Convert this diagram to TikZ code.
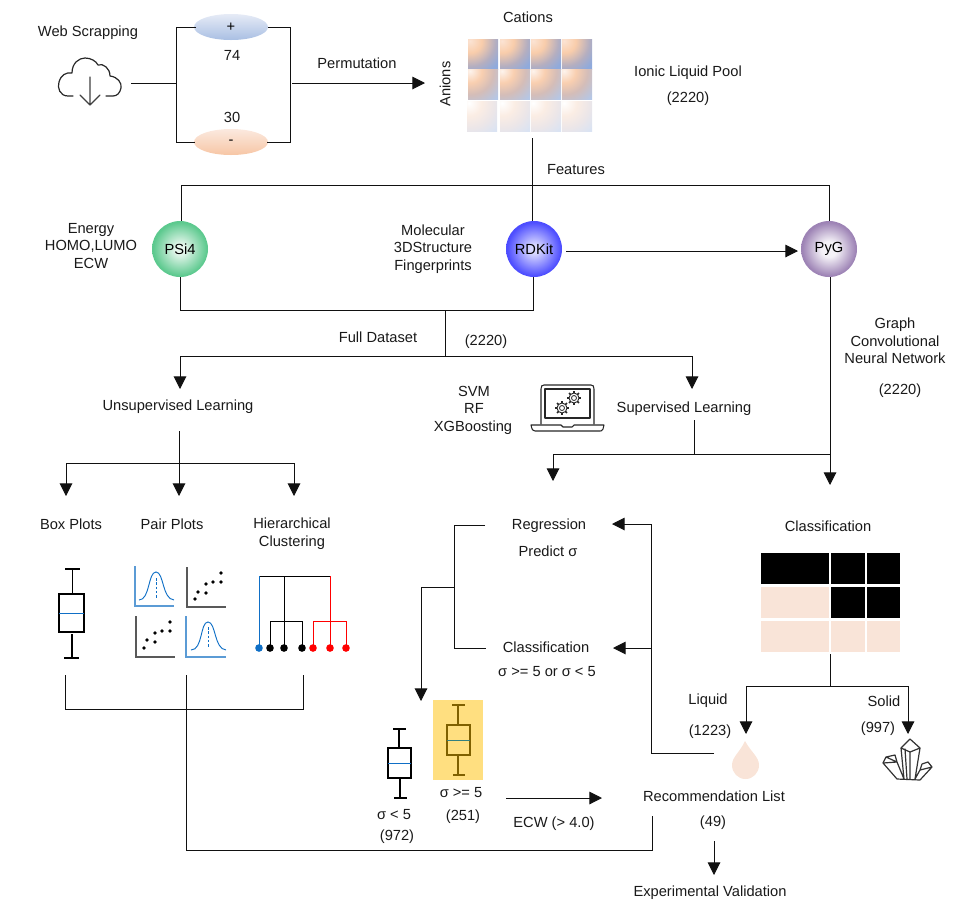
\documentclass[tikz,border=0pt]{standalone}
\usepackage{fontspec}
\setmainfont{Liberation Sans}
\usetikzlibrary{arrows.meta,shapes.geometric}
\definecolor{linec}{HTML}{111111}
\definecolor{peach}{HTML}{F9E4D8}
\definecolor{bluea}{HTML}{5B9BD5}
\definecolor{blueb}{HTML}{0F6FC6}
\definecolor{sandc}{HTML}{7F6000}
\definecolor{yell}{HTML}{FFDF80}
\definecolor{a0}{HTML}{FBE3D3}\definecolor{a1}{HTML}{F9CDAB}\definecolor{a2}{HTML}{B4AEC0}\definecolor{a3}{HTML}{8FAADC}
\definecolor{b0}{HTML}{FDF3EC}\definecolor{b1}{HTML}{F9CFB0}\definecolor{b2}{HTML}{D4BDB8}\definecolor{b3}{HTML}{B4C7E7}
\definecolor{c0}{HTML}{FFFFFF}\definecolor{c1}{HTML}{FBEDE4}\definecolor{c2}{HTML}{ECE6E8}\definecolor{c3}{HTML}{DAE3F3}
\definecolor{g0}{HTML}{E8F7EE}\definecolor{g1}{HTML}{5CC98E}
\definecolor{u0}{HTML}{D8D8FF}\definecolor{u1}{HTML}{4D4DFF}
\definecolor{p0}{HTML}{F4F1F7}\definecolor{p1}{HTML}{9D83B5}
\pgfdeclareradialshading{cellA}{\pgfpointorigin}{color(0bp)=(a0);color(7bp)=(a1);color(15bp)=(a2);color(21bp)=(a3);color(50bp)=(a3)}
\pgfdeclareradialshading{cellB}{\pgfpointorigin}{color(0bp)=(b0);color(7bp)=(b1);color(14bp)=(b2);color(22.5bp)=(b3);color(50bp)=(b3)}
\pgfdeclareradialshading{cellC}{\pgfpointorigin}{color(0bp)=(c0);color(7.5bp)=(c1);color(15bp)=(c2);color(22.5bp)=(c3);color(50bp)=(c3)}
\pgfdeclareradialshading{ballG}{\pgfpointorigin}{color(0bp)=(g0);color(4bp)=(g0);color(24bp)=(g1);color(50bp)=(g1)}
\pgfdeclareradialshading{ballB}{\pgfpointorigin}{color(0bp)=(u0);color(4bp)=(u0);color(24bp)=(u1);color(50bp)=(u1)}
\pgfdeclareradialshading{ballP}{\pgfpointorigin}{color(0bp)=(p0);color(7bp)=(p0);color(24bp)=(p1);color(50bp)=(p1)}
\newcommand{\ioncell}[3]{\begin{scope}\clip (#1,#2) rectangle ++(30,30);\shade[shading=#3] (#1+2,#2+2) circle[radius=42];\end{scope}}
\tikzset{
 lbl/.style={inner sep=0pt,font=\fontsize{11}{13}\selectfont,text=black!90,text height=7.9pt,text depth=0pt},
 conn/.style={draw=linec,line width=0.75pt},
 arr/.style={conn,-{Triangle[length=9.5pt,width=9.5pt]}},
 ball/.style={circle,minimum size=42pt,inner sep=0pt,font=\fontsize{11}{13}\selectfont},
 ion/.style={ellipse,minimum width=55.5pt,minimum height=19.5pt,inner sep=0pt,font=\fontsize{11}{13}\selectfont},
 icon/.style={draw=black!85,line width=0.8pt,line join=round,line cap=round},
 boxs/.style={draw=black,line width=0.8pt},
 boxb/.style={draw=black,line width=1.9pt},
 axisb/.style={draw=bluea,line width=1pt},
 axisd/.style={draw=black!65,line width=1.1pt},
 bell/.style={draw=blueb,line width=0.7pt},
 dots/.style={fill=black,draw=none},
}
\begin{document}
\begin{tikzpicture}[x=0.75pt,y=-0.75pt]
\useasboundingbox (0,0) rectangle (971,908);
% --- top row text
\node[lbl] (web) at (88,31) {Web Scrapping};
\node[lbl] (n74) at (232,55) {74};
\node[lbl] (n30) at (232,117) {30};
\node[lbl] (perm) at (357,63) {Permutation};
\node[lbl] (cat) at (528,17) {Cations};
\node[lbl,rotate=90] (an) at (445,84) {Anions};
\node[lbl] (pool) at (688,71) {Ionic Liquid Pool};
\node[lbl] (pooln) at (688,97) {(2220)};
\node[lbl] (feat) at (576,169) {Features};
% cloud
\draw[icon,line width=0.9pt] (73,96) -- (68,96) .. controls (60,96) and (57,88) .. (59,82) .. controls (61,75) and (66,72) .. (72,73) .. controls (72,63) and (79,58) .. (85,58) .. controls (91,58) and (96,61) .. (98,65) .. controls (103,63) and (110,68) .. (110,76) .. controls (118,77) and (122,83) .. (121,88) .. controls (120,93) and (117,96) .. (113,96) -- (106,96);
\draw[icon,line width=0.9pt,draw=black!75] (90,77) -- (90,105) (80,95) -- (90,105) -- (100,95);
% ions
\definecolor{posT}{HTML}{E6EBF6}\definecolor{posB}{HTML}{A9BFE3}
\definecolor{negT}{HTML}{FBE9DF}\definecolor{negB}{HTML}{F7C6A5}
\node[ion,top color=posT,bottom color=posB,draw=none] (pos) at (231,27) {+};
\node[ion,top color=negT,bottom color=negB,draw=none] (neg) at (231,142) {-};
\coordinate (cl) at (131,83); \coordinate (jl) at (176,83);
\coordinate (bl1) at (176,27); \coordinate (bl2) at (176,142);
\coordinate (br1) at (290,27); \coordinate (br2) at (290,142);
\coordinate (posl) at (196,27); \coordinate (posr) at (268,27);
\coordinate (negl) at (195,142); \coordinate (negr) at (267,142);
\coordinate (ps) at (292,83); \coordinate (pe) at (425,83);
\draw[conn] (cl) -- (jl);
\draw[conn] (posl) -- (bl1) -- (bl2) -- (negl);
\draw[conn] (posr) -- (br1) -- (br2) -- (negr);
\draw[arr] (ps) -- (pe);
% ion grid
\foreach \x in {468,500,531,562} {\ioncell{\x}{39}{cellA}}
\foreach \x in {468,500,531,562} {\ioncell{\x}{69}{cellB}}
\foreach \x in {467,500,531,562} {\ioncell{\x}{101}{cellC}}
% features
\node[ball,shading=ballG] (psi) at (180,249) {PSi4};
\node[ball,shading=ballB] (rd) at (534,249) {RDKit};
\node[ball,shading=ballP] (pyg) at (829,249) {PyG};
\coordinate (gridb) at (532,138); \coordinate (fj) at (532,185);
\coordinate (fl) at (181,185); \coordinate (fr) at (829,185);
\draw[conn] (gridb) -- (fj);
\draw[conn] (psi.north -| fl) -- (fl) -- (fr) -- (pyg.north);
\draw[conn] (fj) -- (rd.north -| fj);
\coordinate (rda) at (566,251); \coordinate (pyga) at (798,251);
\draw[arr] (rda) -- (pyga);
\node[lbl] (t1) at (91,228) {Energy};
\node[lbl] (t2) at (91,245) {HOMO,LUMO};
\node[lbl] (t3) at (91,263) {ECW};
\node[lbl] (t4) at (433,230) {Molecular};
\node[lbl] (t5) at (433,247) {3DStructure};
\node[lbl] (t6) at (433,265) {Fingerprints};
% dataset
\coordinate (dl) at (180,310); \coordinate (dr) at (533,310); \coordinate (dj) at (445,310); \coordinate (dm) at (445,356);
\coordinate (ul) at (180,356); \coordinate (sl) at (692,356);
\coordinate (uarr) at (180,389); \coordinate (sarr) at (692,389);
\draw[conn] (psi.south) -- (dl) -- (dr) -- (rd.south -| dr);
\draw[conn] (dj) -- (dm);
\draw[conn] (ul) -- (sl);
\draw[arr] (ul) -- (uarr);
\draw[arr] (sl) -- (sarr);
\node[lbl] (fd) at (378,337) {Full Dataset};
\node[lbl] (fdn) at (486,340) {(2220)};
\node[lbl] (unsup) at (178,405) {Unsupervised Learning};
\node[lbl] (sup) at (684,407) {Supervised Learning};
\node[lbl] (svm) at (474,391) {SVM};
\node[lbl] (rf) at (474,408) {RF};
\node[lbl] (xgb) at (473,426) {XGBoosting};
% laptop
\draw[icon] (541,424) -- (541,389) .. controls (541,386) and (542,385) .. (544,385) -- (591,385) .. controls (593,385) and (594,386) .. (594,389) -- (594,424);
\draw[icon] (545,389) rectangle (590,418);
\draw[icon] (531,425) -- (561,425) -- (563,427) -- (572,427) -- (574,425) -- (604,425) -- (603,429) .. controls (602,431) and (601,431) .. (600,431) -- (535,431) .. controls (533,431) and (532,430) .. (531,425);
\foreach \cx/\cy in {574/398,562/408}{
  \draw[icon,line width=0.7pt] (\cx,\cy) circle[radius=5];
  \draw[icon,line width=0.6pt] (\cx,\cy) circle[radius=2.5];
  \foreach \a in {0,45,...,315} \draw[icon,line width=1.2pt,line cap=butt] ({\cx+5*cos(\a)},{\cy+5*sin(\a)}) -- ({\cx+7*cos(\a)},{\cy+7*sin(\a)});
}
% unsupervised branch
\coordinate (us) at (179,431); \coordinate (uj) at (179,463); \coordinate (ue) at (179,496);
\coordinate (ujl) at (66,463); \coordinate (ujr) at (294,463);
\coordinate (ubl) at (66,496); \coordinate (ubr) at (294,496);
\draw[conn] (ujl) -- (ujr);
\draw[arr] (us) -- (ue);
\draw[arr] (ujl) -- (ubl);
\draw[arr] (ujr) -- (ubr);
\node[lbl] (bp) at (71,524) {Box Plots};
\node[lbl] (pp) at (172,524) {Pair Plots};
\node[lbl] (hc1) at (292,523) {Hierarchical};
\node[lbl] (hc2) at (292,541) {Clustering};
% box plot
\draw[boxs] (65,569) -- (80,569) (72.5,569) -- (72.5,593) (72,634) -- (72,658) (64,658) -- (79,658);
\draw[boxb] (59,594) rectangle (84,632);
\draw[draw=blueb,line width=0.7pt] (59,613) -- (84,613);
% pair plots
\draw[axisb] (135,566) -- (135,606) -- (174,606);
\draw[bell] (139,600) .. controls (150,600) and (148,572) .. (156,572) .. controls (164,572) and (162,599) .. (174,600);
\draw[bell,dashed,dash pattern=on 2pt off 1.2pt] (156,578) -- (156,598);
\draw[axisd] (187,567) -- (187,607) -- (226,607);
\foreach \p in {(195,599),(198,592),(206,593),(206,584),(213,582),(221,582),(221,573)} \fill[dots] \p circle[radius=1.9];
\draw[axisd] (136,616) -- (136,657) -- (175,657);
\foreach \p in {(144,648),(147,640),(155,642),(155,633),(162,631),(170,631),(170,622)} \fill[dots] \p circle[radius=1.9];
\draw[axisb] (186,616) -- (186,657) -- (226,657);
\draw[bell] (191,650) .. controls (203,650) and (200,622) .. (208,622) .. controls (216,622) and (214,649) .. (226,650);
\draw[bell,dashed,dash pattern=on 2pt off 1.2pt] (208,627) -- (208,648);
% dendrogram
\draw[line width=0.75pt,black] (259,576) -- (330,576) (284,576) -- (284,648) (270,648) -- (270,621) -- (302,621) -- (302,648);
\draw[line width=0.75pt,draw=blueb] (259,576) -- (259,648);
\draw[line width=0.75pt,red] (330,576) -- (330,648) (313,648) -- (313,621) -- (346,621) -- (346,648);
\fill[blueb] (259,648) circle[radius=3.8];
\foreach \x in {270,284,302} \fill[black] (\x,648) circle[radius=3.8];
\foreach \x in {313,330,346} \fill[red] (\x,648) circle[radius=3.8];
% group bracket
\coordinate (g1) at (65,675); \coordinate (g2) at (65,709); \coordinate (g3) at (303,709); \coordinate (g4) at (303,675);
\coordinate (g5) at (186,675); \coordinate (g6) at (186,850); \coordinate (g7) at (652,850); \coordinate (g8) at (652,816);
\draw[conn] (g1) -- (g2) -- (g3) -- (g4);
\draw[conn] (g5) -- (g6) -- (g7) -- (g8);
% supervised
\coordinate (ss) at (694,420); \coordinate (sj) at (694,454);
\coordinate (sjl) at (553,454); \coordinate (sjr) at (830,454);
\coordinate (sa) at (553,481); \coordinate (ca) at (830,485);
\draw[conn] (ss) -- (sj);
\draw[conn] (sjl) -- (sjr);
\draw[arr] (sjl) -- (sa);
\draw[arr] (pyg.south -| ca) -- (ca);
\node[lbl] (g1t) at (895,323) {Graph};
\node[lbl] (g2t) at (895,341) {Convolutional};
\node[lbl] (g3t) at (895,358) {Neural Network};
\node[lbl] (g4t) at (900,389) {(2220)};
\node[lbl] (cls) at (828,526) {Classification};
\node[lbl] (reg) at (549,524) {Regression};
\node[lbl] (pred) at (548,551) {Predict σ};
\node[lbl] (cls2) at (546,647) {Classification};
\node[lbl] (crit) at (547,671) {σ >= 5 or σ < 5};
% regression bracket
\coordinate (b1) at (485,525); \coordinate (b2) at (454,525); \coordinate (b3) at (454,648); \coordinate (b4) at (486,648);
\coordinate (b5) at (454,587); \coordinate (b6) at (421,587); \coordinate (b7) at (421,701);
\draw[conn] (b1) -- (b2) -- (b3) -- (b4);
\draw[conn] (b5) -- (b6);
\draw[arr] (b6) -- (b7);
% feedback
\coordinate (f1) at (714,753); \coordinate (f2) at (651,753); \coordinate (f3) at (651,524); \coordinate (f4) at (612,524);
\coordinate (f5) at (651,648); \coordinate (f6) at (613,648);
\draw[arr] (f1) -- (f2) -- (f3) -- (f4);
\draw[arr] (f5) -- (f6);
% small box
\draw[boxs] (393,729) -- (406,729) (399,729) -- (399,747) (400,779) -- (400,798) (394,798) -- (407,798);
\draw[boxb,line width=1.6pt] (388,748) rectangle (411,778);
\draw[draw=blueb,line width=0.7pt] (388,763) -- (411,763);
\node[lbl] (s1) at (394,814) {σ < 5};
\node[lbl] (s1n) at (397,835) {(972)};
% yellow box
\fill[yell] (433,700) rectangle (483,780);
\draw[draw=sandc,line width=0.8pt] (452,705) -- (465,705) (458,705) -- (458,724) (458,756) -- (458,775) (453,775) -- (465,775);
\draw[draw=sandc,line width=1.6pt] (447,725) rectangle (470,755);
\draw[draw=teal!60!gray,line width=0.7pt] (447,740) -- (470,740);
\node[lbl] (s2) at (461,792) {σ >= 5};
\node[lbl] (s2n) at (463,815) {(251)};
\coordinate (e1) at (506,798); \coordinate (e2) at (602,798);
\draw[arr] (e1) -- (e2);
\node[lbl] (ecw) at (554,822) {ECW (> 4.0)};
\node[lbl] (rec) at (714,796) {Recommendation List};
\node[lbl] (recn) at (713,821) {(49)};
\coordinate (v1) at (714,841); \coordinate (v2) at (714,875);
\draw[arr] (v1) -- (v2);
\node[lbl] (exp) at (710,891) {Experimental Validation};
% heat map
\foreach \x/\w in {761/68,831/34,867/33} \fill[black] (\x,553) rectangle ++(\w,31);
\fill[peach] (761,587) rectangle ++(68,31);
\foreach \x/\w in {831/34,867/33} \fill[black] (\x,587) rectangle ++(\w,31);
\foreach \x/\w in {761/68,831/34,867/33} \fill[peach] (\x,621) rectangle ++(\w,31);
\coordinate (h1) at (830,654); \coordinate (h2) at (830,686);
\coordinate (hl) at (746,686); \coordinate (hr) at (908,686);
\coordinate (hla) at (746,734); \coordinate (hra) at (908,734);
\draw[conn] (h1) -- (h2);
\draw[conn] (hl) -- (hr);
\draw[arr] (hl) -- (hla);
\draw[arr] (hr) -- (hra);
\node[lbl] (liq) at (708,699) {Liquid};
\node[lbl] (liqn) at (710,730) {(1223)};
\node[lbl] (sol) at (884,701) {Solid};
\node[lbl] (soln) at (878,727) {(997)};
% drop
\fill[peach] (745,741) .. controls (740,752) and (732,757) .. (732,765) .. controls (732,773) and (738,779) .. (745.5,779) .. controls (753,779) and (759,773) .. (759,765) .. controls (759,757) and (751,752) .. (745,741) -- cycle;
% crystal
\draw[icon,line width=0.9pt,draw=black!80] (904,779) -- (901,748) -- (910,739) -- (920,748) -- (915,779)
  (901,748) -- (910,752) -- (920,748) (910,752) -- (910,779) (905,749) -- (907,779)
  (897,779) -- (883,763) -- (886,757) -- (895,755) -- (897,762) -- (904,779) (883,763) -- (897,762) (886,757) -- (897,762)
  (920,780) -- (932,767) -- (928,762) -- (922,764) -- (920,770) -- (915,779) (920,770) -- (932,767)
  (897,779) -- (920,780);
\end{tikzpicture}
\end{document}
